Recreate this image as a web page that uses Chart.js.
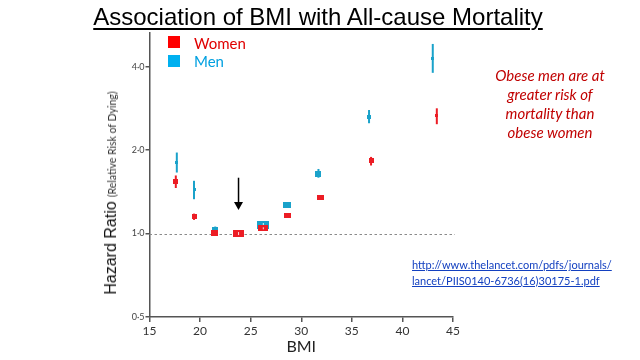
<!DOCTYPE html>
<html>
<head>
<meta charset="utf-8">
<script src="https://cdn.jsdelivr.net/npm/chart.js@4.4.1/dist/chart.umd.min.js"></script>
<style>
  html,body{margin:0;padding:0;background:#fff;}
  #wrap{position:relative;width:640px;height:360px;overflow:hidden;font-family:Lato,"Open Sans",sans-serif;}
  #c{position:absolute;left:0;top:0;}
  .title{position:absolute;left:0;width:636px;top:5px;text-align:center;font:24px/24px "Liberation Sans",Arial,sans-serif;color:#000;}
  .title span{text-decoration:underline;text-decoration-thickness:1.5px;text-underline-offset:3px;}
  .sw{position:absolute;width:12px;height:12px;}
  .lg{position:absolute;font-size:15px;line-height:15px;}
  .ytitle{position:absolute;left:111px;top:193px;transform:translate(-50%,-50%) rotate(-90deg);white-space:nowrap;color:#111;line-height:18px;}
  .ytitle .big{font:16px "Liberation Sans",Arial,sans-serif;}
  .ytitle .small{font-size:10.5px;color:#333;}
  .note{position:absolute;left:480px;width:140px;top:66px;text-align:center;font-style:italic;font-size:15px;line-height:19px;color:#c00000;}
  .link{position:absolute;left:412px;top:257px;font-size:11px;line-height:16px;color:#1340c0;text-decoration:underline;white-space:nowrap;}
</style>
</head>
<body>
<div id="wrap">
  <canvas id="c" width="640" height="360"></canvas>
  <div class="title"><span>Association of BMI with All-cause Mortality</span></div>
  <div class="sw" style="left:168px;top:36px;background:#ff0000"></div>
  <div class="lg" style="left:194px;top:36px;color:#e00000">Women</div>
  <div class="sw" style="left:168px;top:55px;background:#00b0f0"></div>
  <div class="lg" style="left:194px;top:54px;color:#00a0e0">Men</div>
  <div class="ytitle"><span class="big">Hazard Ratio</span> <span class="small">(Relative Risk of Dying)</span></div>
  <div class="note">Obese men are at<br>greater risk of<br>mortality than<br>obese women</div>
  <div class="link">http://www.thelancet.com/pdfs/journals/<br>lancet/PIIS0140-6736(16)30175-1.pdf</div>
</div>
<script>
(() => {
  "use strict";

  // BMI group midpoints and hazard ratios (with 95% CI)
  const WOMEN_BMI = [17.6, 19.4, 21.4, 23.8, 26.2, 28.6, 31.9, 36.9, 43.4];
  const WOMEN_HR  = [1.54, 1.15, 1.005, 1.0, 1.045, 1.157, 1.35, 1.83, 2.66];
  const WOMEN_LO  = [1.46, 1.12, 0.99, 1.0, 1.03, 1.145, 1.33, 1.76, 2.48];
  const WOMEN_HI  = [1.62, 1.18, 1.02, 1.0, 1.06, 1.17, 1.37, 1.89, 2.83];

  const MEN_BMI = [17.7, 19.4, 21.5, 23.8, 26.2, 28.6, 31.7, 36.7, 43.0];
  const MEN_HR  = [1.80, 1.44, 1.034, 1.0, 1.074, 1.266, 1.64, 2.63, 4.29];
  const MEN_LO  = [1.66, 1.33, 1.01, 1.0, 1.06, 1.25, 1.59, 2.50, 3.80];
  const MEN_HI  = [1.96, 1.55, 1.06, 1.0, 1.09, 1.28, 1.71, 2.79, 4.83];

  const Y_TICKS = [0.5, 1, 2, 4];
  const X_TICKS = [15, 20, 25, 30, 35, 40, 45];

  // marker box sizes (px) -- style only
  const WOMEN_BOX = [[5,5],[5,5],[7,6],[11,7],[10,6],[7,5],[7,5],[5,5],[3,3]];
  const MEN_BOX   = [[3,3],[3,3],[6,6],[11,7],[12,8],[8,6],[6,6],[4,4],[3,3]];

  const RED = "#ec1c24", BLUE = "#1aa2ca";

  function box(w,h,color){
    const c=document.createElement("canvas");
    c.width=w; c.height=h;
    const g=c.getContext("2d");
    g.fillStyle=color; g.fillRect(0,0,w,h);
    if(w>=9){ // CI tick shows through the big boxes
      g.fillStyle="rgba(255,255,255,0.85)";
      g.fillRect(Math.floor(w/2),2,1,h-4);
    }
    return c;
  }
  const pts = (xs,ys)=>xs.map((x,i)=>({x, y:ys[i]}));

  const womenStyles = WOMEN_BOX.map(s=>box(s[0],s[1],RED));
  const menStyles = MEN_BOX.map(s=>box(s[0],s[1],BLUE));

  const refLine = {
    id:"refLine",
    beforeDatasetsDraw(chart){
      const {ctx, chartArea, scales:{y}} = chart;
      const py = Math.round(y.getPixelForValue(1)) + 0.5;
      ctx.save();
      ctx.strokeStyle="#8a8a8a"; ctx.lineWidth=1; ctx.setLineDash([2.5,2.5]);
      ctx.beginPath(); ctx.moveTo(chartArea.left, py); ctx.lineTo(chartArea.right+2, py); ctx.stroke();
      ctx.restore();
    }
  };

  const errorBars = {
    id:"errorBars",
    beforeDatasetsDraw(chart){
      const {ctx, scales:{x,y}} = chart;
      ctx.save();
      ctx.lineWidth=2;
      chart.data.datasets.slice().reverse().forEach(ds=>{
        if(!ds.lo) return;
        ctx.strokeStyle=ds.barColor;
        ds.data.forEach((p,i)=>{
          if(ds.hi[i]===ds.lo[i]) return;
          const px=x.getPixelForValue(p.x);
          ctx.beginPath();
          ctx.moveTo(px, y.getPixelForValue(ds.lo[i]));
          ctx.lineTo(px, y.getPixelForValue(ds.hi[i]));
          ctx.stroke();
        });
      });
      ctx.restore();
    }
  };

  // arrow pointing at the reference group
  const ARROW = {bmi:23.8, from:1.59, to:1.215};
  const arrow = {
    id:"arrow",
    afterDatasetsDraw(chart){
      const {ctx, scales:{x,y}} = chart;
      const px=x.getPixelForValue(ARROW.bmi);
      const y0=y.getPixelForValue(ARROW.from), y1=y.getPixelForValue(ARROW.to);
      ctx.save();
      ctx.strokeStyle="#000"; ctx.fillStyle="#000"; ctx.lineWidth=1.5;
      ctx.beginPath(); ctx.moveTo(px,y0); ctx.lineTo(px,y1-6); ctx.stroke();
      ctx.beginPath(); ctx.moveTo(px-4.5,y1-8); ctx.lineTo(px+4.5,y1-8); ctx.lineTo(px,y1); ctx.closePath(); ctx.fill();
      ctx.restore();
    }
  };

  new Chart(document.getElementById("c"), {
    type:"scatter",
    data:{
      datasets:[
        { label:"Women", data:pts(WOMEN_BMI, WOMEN_HR), lo:WOMEN_LO, hi:WOMEN_HI, barColor:RED,
          pointStyle:(c)=>womenStyles[c.dataIndex], pointRadius:3, backgroundColor:RED, borderColor:RED },
        { label:"Men", data:pts(MEN_BMI, MEN_HR), lo:MEN_LO, hi:MEN_HI, barColor:BLUE,
          pointStyle:(c)=>menStyles[c.dataIndex], pointRadius:3, backgroundColor:BLUE, borderColor:BLUE }
      ]
    },
    options:{
      responsive:false,
      animation:false,
      layout:{padding:{left:0, top:33, right:187, bottom:0}},
      plugins:{legend:{display:false}, tooltip:{enabled:false}},
      scales:{
        x:{
          type:"linear", min:15, max:45,
          afterBuildTicks:(s)=>{ s.ticks = X_TICKS.map(v=>({value:v})); },
          afterFit:(s)=>{ s.height = 43; },
          grid:{drawOnChartArea:false, drawTicks:true, tickLength:5, color:"#555", lineWidth:1.5},
          border:{display:true, color:"#555", width:1.5},
          ticks:{color:"#333", font:{family:"Lato", size:12}, padding:2, maxRotation:0},
          title:{display:true, text:"BMI", color:"#222", font:{family:"Lato", size:16}, padding:{top:0,bottom:4}}
        },
        y:{
          type:"logarithmic", min:0.5, max:5.29,
          afterBuildTicks:(s)=>{ s.ticks = Y_TICKS.map(v=>({value:v})); },
          afterFit:(s)=>{ s.width = 149.5; },
          grid:{drawOnChartArea:false, drawTicks:true, tickLength:4, color:"#555", lineWidth:1.5},
          border:{display:true, color:"#555", width:1.5},
          ticks:{color:"#444", font:{family:"Lato", size:9}, padding:1,
            callback:(v)=>Number(v).toFixed(1).replace(".", "\u00b7")}
        }
      }
    },
    plugins:[refLine, errorBars, arrow]
  });
})();
</script>
</body>
</html>
